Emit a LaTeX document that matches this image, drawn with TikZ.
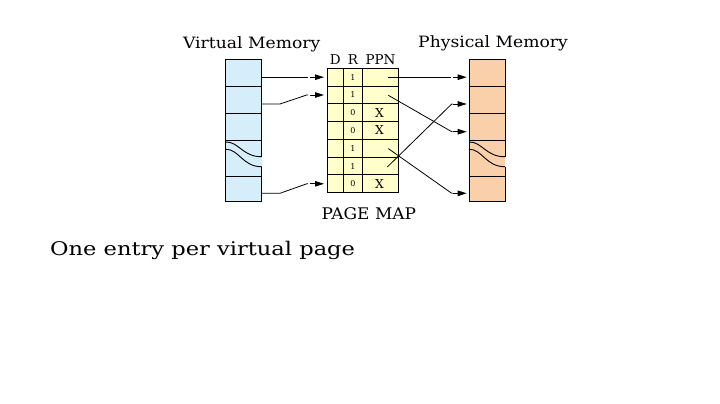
\documentclass[tikz,border=0pt]{standalone}
\usepackage{fontspec}
\setmainfont{DejaVu Serif}
\newfontfamily\titlefont[FakeStretch=1.1]{DejaVu Serif}
\newfontfamily\bigfont[FakeStretch=1.2]{DejaVu Serif}
\newfontfamily\pmfont[FakeStretch=1.06]{DejaVu Serif}
\usetikzlibrary{arrows.meta}
\definecolor{vmblue}{RGB}{214,237,250}
\definecolor{pmpeach}{RGB}{250,208,170}
\definecolor{mapyellow}{RGB}{255,255,204}
\tikzset{
  box/.style={line width=0.9pt},
  conn/.style={line width=0.8pt},
  arr/.style={line width=0.8pt,-{Triangle[length=9pt,width=5.5pt]}},
  title/.style={inner sep=0pt,anchor=base,font=\titlefont\fontsize{15.6}{18}\selectfont},
  hdr/.style={inner sep=0pt,anchor=base,font=\fontsize{13.5}{16}\selectfont},
  digit/.style={inner sep=0pt,font=\fontsize{8}{9}\selectfont},
  xmark/.style={inner sep=0pt,font=\fontsize{12.3}{14}\selectfont},
}
\newcommand{\memcolumn}[2]{%
  \begin{scope}[shift={(#1,0)}]
    \fill[#2] (0,59.3) rectangle (36,201.7);
    \draw[box] (0,201.7) -- (0,59.3) -- (36,59.3) -- (36,156.7);
    \draw[box] (36,166.7) -- (36,201.7) -- (0,201.7);
    \foreach \yy in {86.7,113.3,140,176.7} \draw[box] (0,\yy) -- (36,\yy);
    \draw[box] (0,142) .. controls (13,141.5) and (17,157) .. (36,156.7);
    \draw[box] (0,149.3) .. controls (13,148.8) and (17,167) .. (36,166.7);
  \end{scope}}
\begin{document}
\begin{tikzpicture}[x=1pt,y=-1pt]
\useasboundingbox (0,0) rectangle (720,404);
\fill[white] (0,0) rectangle (720,404);

% titles
\node[title] (vmt) at (251.7,48.3) {Virtual Memory};
\node[title] (pmt) at (493,48) {Physical Memory};
\node[hdr] (hd) at (335.3,65) {D};
\node[hdr] (hr) at (353,65) {R};
\node[hdr] (hp) at (380.5,65) {PPN};
\node[inner sep=0pt,anchor=base,font=\pmfont\fontsize{16}{18}\selectfont] (pm) at (368.8,219) {PAGE MAP};
\node[inner sep=0pt,anchor=base west,font=\bigfont\fontsize{18.8}{22}\selectfont] (txt) at (50,255) {One entry per virtual page};

% memory columns
\memcolumn{225.7}{vmblue}
\memcolumn{469}{pmpeach}

% page map
\fill[mapyellow] (327.3,68.3) rectangle (398.3,192.7);
\draw[box] (327.3,68.3) rectangle (398.3,192.7);
\draw[box] (343.3,68.3) -- (343.3,192.7);
\draw[box] (362.7,68.3) -- (362.7,192.7);
\foreach \i in {1,...,6} \draw[box] (327.3,{68.3+17.77*\i}) -- (398.3,{68.3+17.77*\i});
\foreach \v [count=\i] in {1,1,0,0,1,1,0}
  \node[digit] (r\i) at (353,{68.3+17.77*(\i-0.5)}) {\v};
\foreach \i in {3,4,7}
  \node[xmark] (x\i) at (379.5,{68.3+17.77*(\i-0.5)}) {X};

% coordinates
\coordinate (v1) at (261.7,77.2);
\coordinate (v2) at (261.7,104);
\coordinate (v7) at (261.7,193.3);
\coordinate (m1) at (324,77.2);
\coordinate (m2) at (324,95);
\coordinate (m7) at (324,183.8);
\coordinate (p1) at (388.3,77.2);
\coordinate (p2) at (388.3,95.3);
\coordinate (p5) at (388.3,148.6);
\coordinate (p6) at (387.3,167);
\coordinate (f1) at (466.7,77.2);
\coordinate (f2) at (466.7,104);
\coordinate (f3) at (466.7,131.7);
\coordinate (f7) at (466.7,193.3);

% virtual -> page map
\draw[conn] (v1) -- ([xshift=-16pt]m1);
\draw[arr] ([xshift=-14pt]m1) -- (m1);
\draw[conn] (v2) -- ++(18.3,0) -- ([xshift=-17.3pt]m2) -- ([xshift=-16pt]m2);
\draw[arr] ([xshift=-14pt]m2) -- (m2);
\draw[conn] (v7) -- ++(18.3,0) -- ([xshift=-17.3pt]m7) -- ([xshift=-16pt]m7);
\draw[arr] ([xshift=-14pt]m7) -- (m7);

% page map -> physical
\draw[conn] (p1) -- ([xshift=-16pt]f1);
\draw[arr] ([xshift=-14pt]f1) -- (f1);
\draw[conn] (p2) -- ([xshift=-15pt]f3) -- ([xshift=-14pt]f3);
\draw[arr] ([xshift=-14pt]f3) -- (f3);
\draw[conn] (p5) -- ([xshift=-15pt]f7) -- ([xshift=-14pt]f7);
\draw[arr] ([xshift=-14pt]f7) -- (f7);
\draw[conn] (p6) -- ([xshift=-15pt]f2) -- ([xshift=-14pt]f2);
\draw[arr] ([xshift=-14pt]f2) -- (f2);
\end{tikzpicture}
\end{document}
